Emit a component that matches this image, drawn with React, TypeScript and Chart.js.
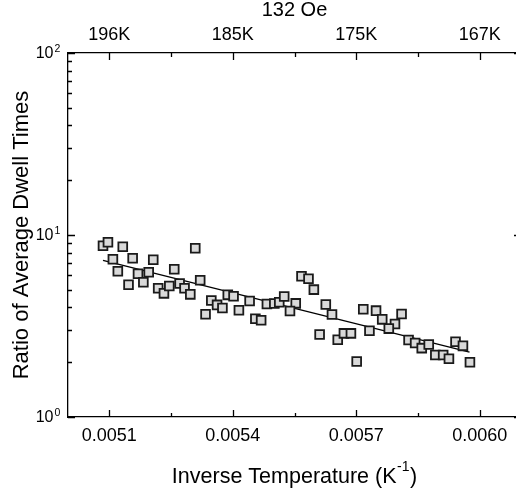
import React, { useEffect, useRef } from "react";
import { Chart, registerables } from "chart.js";

Chart.register(...registerables);

// Measured data: inverse temperature (1/K) and ratio of average dwell times
const invTemp = [
  0.005085, 0.005097, 0.005133, 0.005109, 0.005157, 0.005207, 0.005309, 0.005121,
  0.005170, 0.005196, 0.005258, 0.005147, 0.005183, 0.005219, 0.005233, 0.005246,
  0.005271, 0.005283, 0.005297, 0.005321, 0.005348, 0.005362, 0.005375, 0.005334,
  0.005388, 0.005402, 0.005441, 0.005415, 0.005483, 0.005501, 0.005513, 0.005525,
  0.005553, 0.005539, 0.005455, 0.005469, 0.005567, 0.005584, 0.005597, 0.005626,
  0.005641, 0.005611, 0.005655, 0.005670, 0.005687, 0.005701, 0.005717, 0.005748,
  0.005763, 0.005810, 0.005794, 0.005779, 0.005732, 0.005827, 0.005843, 0.005859,
  0.005876, 0.005892, 0.005911, 0.005925, 0.005941, 0.005959, 0.005976,
];
const dwellRatio = [
  8.72, 9.12, 8.61, 7.35, 7.45, 7.31, 8.45, 6.32,
  6.12, 6.24, 6.48, 5.33, 5.5, 5.1, 4.78, 5.25,
  5.41, 5.1, 4.72, 5.64, 4.37, 4.13, 3.97, 3.67,
  4.69, 4.61, 4.34, 3.86, 4.18, 4.2, 4.27, 4.59,
  4.21, 3.82, 3.47, 3.4, 5.93, 5.75, 5.01, 4.15,
  3.66, 2.84, 2.66, 2.88, 2.88, 2.02, 3.91, 3.84,
  3.44, 3.68, 3.24, 3.06, 2.98, 2.65, 2.55, 2.39,
  2.5, 2.19, 2.19, 2.09, 2.59, 2.46, 2.0,
];

// Fit line endpoints
const fitX = [0.005085, 0.005975];
const fitY = [7.26, 2.27];

// Axis ticks
const xMajorTicks = [0.0051, 0.0054, 0.0057, 0.006];
const xMinorTicks = [0.00525, 0.00555, 0.00585];
const topTickLabels = ["196K", "185K", "175K", "167K"];
const yDecades = [1, 10, 100];
const yExponents = ["0", "1", "2"];
const yMinorMultipliers = [2, 3, 4, 5, 6, 7, 8, 9];

const FONT = "'Liberation Sans', Arial, sans-serif";

const decorPlugin = {
  id: "decor",
  afterDraw(chart: any) {
    const ctx = chart.ctx as CanvasRenderingContext2D;
    const area = chart.chartArea;
    const xs = chart.scales.x;
    const ys = chart.scales.y;
    ctx.save();
    ctx.strokeStyle = "#000";
    ctx.lineWidth = 1.3;
    ctx.beginPath();
    const vTick = (v: number, len: number) => {
      const px = Math.round(xs.getPixelForValue(v)) + 0.5;
      ctx.moveTo(px, area.bottom);
      ctx.lineTo(px, area.bottom - len);
      ctx.moveTo(px, area.top);
      ctx.lineTo(px, area.top + len);
    };
    xMajorTicks.forEach((v) => vTick(v, 7));
    xMinorTicks.forEach((v) => vTick(v, 4));
    const hTick = (v: number, len: number) => {
      const py = Math.round(ys.getPixelForValue(v)) + 0.5;
      ctx.moveTo(area.left, py);
      ctx.lineTo(area.left + len, py);
      ctx.moveTo(area.right, py);
      ctx.lineTo(area.right - len, py);
    };
    yDecades.forEach((d, i) => {
      hTick(d, 7);
      if (i < yDecades.length - 1) {
        yMinorMultipliers.forEach((m) => hTick(d * m, 4));
      }
    });
    ctx.stroke();

    // y tick labels 10^n
    ctx.fillStyle = "#000";
    ctx.textBaseline = "alphabetic";
    yDecades.forEach((d, i) => {
      const py = ys.getPixelForValue(d);
      ctx.font = `16px ${FONT}`;
      ctx.textAlign = "right";
      ctx.fillText("10", 53.5, py + 5);
      ctx.font = `10.5px ${FONT}`;
      ctx.textAlign = "left";
      ctx.fillText(yExponents[i], 54.5, py - 1);
    });

    // x axis title with superscript
    const main = "Inverse Temperature (K";
    const sup = "-1";
    const tail = ")";
    ctx.font = `21.5px ${FONT}`;
    const wMain = ctx.measureText(main).width;
    const wTail = ctx.measureText(tail).width;
    ctx.font = `14px ${FONT}`;
    const wSup = ctx.measureText(sup).width;
    const total = wMain + wSup + 1 + wTail;
    const cx = (area.left + area.right) / 2;
    const x0 = cx - total / 2;
    const base = 483;
    ctx.textAlign = "left";
    ctx.font = `21.5px ${FONT}`;
    ctx.fillText(main, x0, base);
    ctx.font = `14px ${FONT}`;
    ctx.fillText(sup, x0 + wMain + 0.5, base - 12);
    ctx.font = `21.5px ${FONT}`;
    ctx.fillText(tail, x0 + wMain + wSup + 1, base);
    ctx.restore();
  },
};

export default function App() {
  const canvasRef = useRef<HTMLCanvasElement | null>(null);

  useEffect(() => {
    const canvas = canvasRef.current;
    if (!canvas) return;
    const points = invTemp.map((x, i) => ({ x, y: dwellRatio[i] }));
    const fitPoints = fitX.map((x, i) => ({ x, y: fitY[i] }));
    const tickSetter = (s: any) => {
      s.ticks = xMajorTicks.map((v) => ({ value: v }));
    };
    const border = { display: true, color: "#000", width: 1.3 };
    const chart = new Chart(canvas, {
      type: "scatter",
      data: {
        datasets: [
          {
            type: "scatter",
            data: points,
            pointStyle: "rect",
            pointRadius: 6.2,
            pointBorderWidth: 1.8,
            pointBackgroundColor: "#d9d9d9",
            pointBorderColor: "#1a1a1a",
            xAxisID: "x",
            yAxisID: "y",
          } as any,
          {
            type: "line",
            data: fitPoints,
            borderColor: "#000",
            borderWidth: 1.3,
            pointRadius: 0,
            showLine: true,
            fill: false,
            xAxisID: "x",
            yAxisID: "y",
          } as any,
        ],
      },
      options: {
        responsive: false,
        animation: false,
        devicePixelRatio: 1,
        layout: { padding: { left: 0, right: 19, top: 0, bottom: 0 } },
        plugins: {
          legend: { display: false },
          tooltip: { enabled: false },
          title: { display: false },
        },
        scales: {
          x: {
            type: "linear",
            position: "bottom",
            min: 0.005,
            max: 0.0061,
            afterBuildTicks: tickSetter,
            afterFit: (s: any) => {
              s.height = 76;
            },
            ticks: {
              callback: (v: any) => Number(v).toFixed(4),
              font: { family: FONT, size: 18 },
              color: "#000",
              padding: 8,
              maxRotation: 0,
              autoSkip: false,
            },
            grid: { display: false, drawTicks: false },
            border,
          },
          x2: {
            type: "linear",
            position: "top",
            min: 0.005,
            max: 0.0061,
            afterBuildTicks: tickSetter,
            afterFit: (s: any) => {
              s.height = 53;
            },
            ticks: {
              callback: (_v: any, i: number) => topTickLabels[i],
              font: { family: FONT, size: 18 },
              color: "#000",
              padding: 7,
              maxRotation: 0,
              autoSkip: false,
            },
            title: {
              display: true,
              text: "132 Oe",
              color: "#000",
              font: { family: FONT, size: 20, lineHeight: 1 },
              padding: 0,
            },
            grid: { display: false, drawTicks: false },
            border,
          },
          y: {
            type: "logarithmic",
            position: "left",
            min: 1,
            max: 100,
            afterFit: (s: any) => {
              s.width = 68;
            },
            ticks: { display: false },
            title: {
              display: true,
              text: "Ratio of Average Dwell Times",
              color: "#000",
              font: { family: FONT, size: 22, lineHeight: 1 },
              padding: { top: 11, bottom: 0 },
            },
            grid: { display: false, drawTicks: false },
            border,
          },
          y2: {
            type: "logarithmic",
            position: "right",
            min: 1,
            max: 100,
            afterFit: (s: any) => {
              s.width = 0;
            },
            ticks: { display: false },
            grid: { display: false, drawTicks: false },
            border,
          },
        },
      } as any,
      plugins: [decorPlugin],
    });
    return () => chart.destroy();
  }, []);

  return (
    <div
      style={{
        position: "fixed",
        left: 0,
        top: 0,
        width: 516,
        height: 493,
        overflow: "hidden",
        background: "#fff",
      }}
    >
      <canvas ref={canvasRef} width={540} height={493} style={{ display: "block" }} />
    </div>
  );
}
